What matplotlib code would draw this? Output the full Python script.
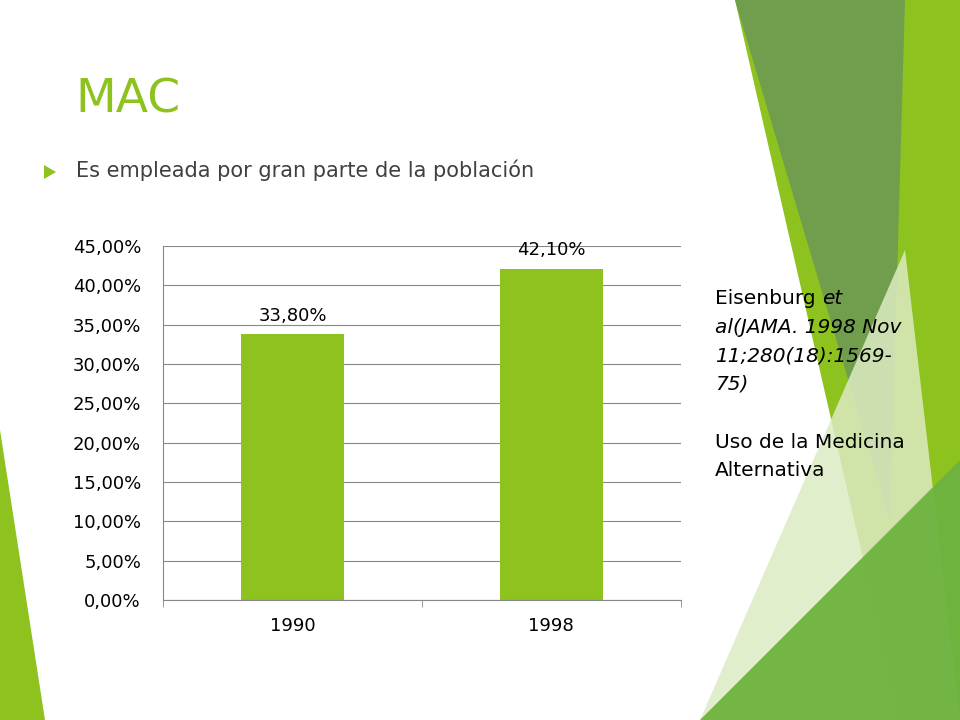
import matplotlib.pyplot as plt
from matplotlib.patches import Polygon
from matplotlib.ticker import FuncFormatter

years = ["1990", "1998"]
uso = [33.8, 42.1]
bar_labels = ["33,80%", "42,10%"]

green = "#8DC21F"

fig = plt.figure(figsize=(9.6, 7.2), dpi=100)


def px(points):
    # pixel coords (top-left origin) -> figure fraction
    return [(x / 960, 1 - y / 720) for x, y in points]


def ftext(x, y, s, **kw):
    return fig.text(x / 960, 1 - y / 720, s, va="center", **kw)


# decorative background shapes
shapes = [
    ([(735, 0), (960, 0), (960, 720), (900, 720)], "#8DC21F", 1.0),
    ([(735, 0), (905, 0), (890, 520)], "#6E9A52", 0.9),
    ([(700, 720), (905, 250), (960, 720)], "#DCEBC4", 0.85),
    ([(700, 720), (960, 460), (960, 720)], "#6DB33F", 0.95),
    ([(0, 430), (45, 720), (0, 720)], "#8DC21F", 1.0),
]
for pts, col, a in shapes:
    fig.patches.append(Polygon(px(pts), closed=True, transform=fig.transFigure,
                               facecolor=col, edgecolor="none", alpha=a, zorder=0))

ftext(75, 100, "MAC", color=green, fontsize=34)
fig.patches.append(Polygon(px([(44, 165), (44, 179), (56, 172)]), closed=True,
                           transform=fig.transFigure, facecolor=green, edgecolor="none"))
ftext(76, 170, "Es empleada por gran parte de la población", color="#404040", fontsize=15)

ftext(715, 298, "Eisenburg", fontsize=14.5)
ftext(822, 298, "et", fontsize=14.5, style="italic")
ftext(715, 328, "al(JAMA. 1998 Nov", fontsize=14.5, style="italic")
ftext(715, 356, "11;280(18):1569-", fontsize=14.5, style="italic")
ftext(715, 384, "75)", fontsize=14.5, style="italic")
ftext(715, 442, "Uso de la Medicina", fontsize=14.5)
ftext(715, 470, "Alternativa", fontsize=14.5)

ax = fig.add_axes([0.170, 0.1667, 0.539, 0.4917])
ax.set_facecolor("none")
bars = ax.bar(years, uso, width=0.4, color=green, zorder=2)
for b, lab in zip(bars, bar_labels):
    ax.text(b.get_x() + b.get_width() / 2, b.get_height() + 1.2, lab,
            ha="center", va="bottom", fontsize=13)
ax.set_ylim(0, 45)
ax.set_xlim(-0.5, 1.5)
ax.set_yticks(range(0, 46, 5))
ax.yaxis.set_major_formatter(FuncFormatter(lambda v, p: f"{v:.2f}%".replace(".", ",")))
ax.grid(axis="y", color="#888888", linewidth=0.8, zorder=0)
for s in ["top", "right"]:
    ax.spines[s].set_visible(False)
ax.spines["left"].set_color("#888888")
ax.spines["bottom"].set_color("#888888")
ax.tick_params(axis="y", length=0, labelsize=13, pad=16)
ax.tick_params(axis="x", length=0, labelsize=13, pad=12)
ax.set_xticks([-0.5, 0.5, 1.5], minor=True)
ax.tick_params(axis="x", which="minor", length=5, color="#888888")

fig.savefig("out.png")
